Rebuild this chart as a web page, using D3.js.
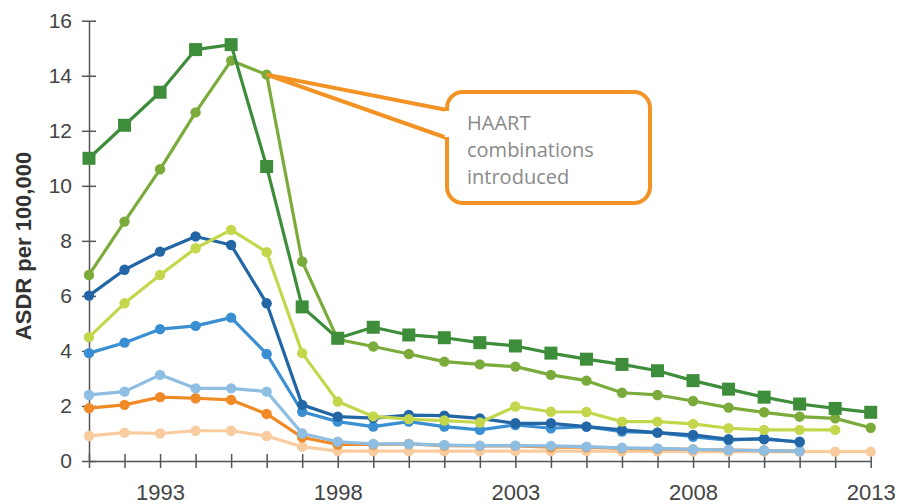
<!DOCTYPE html>
<html>
<head>
<meta charset="utf-8">
<script src="https://cdn.jsdelivr.net/npm/d3@7"></script>
<style>
  html, body { margin: 0; padding: 0; background: #fff; }
  svg { display: block; }
</style>
</head>
<body>
<svg id="chart" width="898" height="504"></svg>
<script>
const years = d3.range(1991, 2014);
const yTicks = [0, 2, 4, 6, 8, 10, 12, 14, 16];
const xTickLabels = [1993, 1998, 2003, 2008, 2013];

const darkGreen = [11.0, 12.2, 13.4, 14.95, 15.13, 10.7, 5.6, 4.46, 4.86, 4.58, 4.48, 4.3, 4.18, 3.92, 3.7, 3.51, 3.28, 2.92, 2.61, 2.32, 2.07, 1.91, 1.77];
const midGreen = [6.76, 8.7, 10.6, 12.67, 14.55, 14.04, 7.25, 4.42, 4.16, 3.89, 3.61, 3.51, 3.43, 3.13, 2.92, 2.48, 2.4, 2.18, 1.94, 1.77, 1.61, 1.55, 1.21];
const yellowGreen = [4.5, 5.73, 6.76, 7.73, 8.4, 7.59, 3.92, 2.16, 1.62, 1.52, 1.47, 1.4, 1.98, 1.79, 1.78, 1.43, 1.43, 1.35, 1.19, 1.13, 1.13, 1.13, null];
const darkBlue = [6.01, 6.95, 7.61, 8.16, 7.85, 5.73, 2.04, 1.61, 1.56, 1.67, 1.65, 1.55, 1.37, 1.37, 1.25, 1.13, 1.03, 0.95, 0.79, 0.79, 0.7, null, null];
const midBlue = [3.92, 4.3, 4.79, 4.91, 5.21, 3.89, 1.79, 1.43, 1.25, 1.43, 1.25, 1.13, 1.31, 1.19, 1.25, 1.07, 1.03, 0.88, 0.76, 0.82, 0.68, null, null];
const lightBlue = [2.4, 2.52, 3.13, 2.64, 2.64, 2.52, 1.0, 0.7, 0.62, 0.62, 0.58, 0.56, 0.56, 0.55, 0.52, 0.48, 0.46, 0.42, 0.4, 0.38, 0.36, null, null];
const orange = [1.92, 2.04, 2.32, 2.28, 2.22, 1.71, 0.86, 0.6, 0.6, 0.62, 0.56, 0.55, 0.55, 0.5, 0.5, 0.46, 0.44, 0.42, 0.4, 0.38, 0.36, null, null];
const peach = [0.91, 1.03, 1.0, 1.1, 1.1, 0.91, 0.52, 0.36, 0.36, 0.36, 0.36, 0.36, 0.36, 0.36, 0.36, 0.35, 0.35, 0.34, 0.34, 0.34, 0.34, 0.34, 0.34];

const seriesNames = ["peach", "orange", "lightBlue", "midBlue", "darkBlue", "yellowGreen", "midGreen", "darkGreen"];
const seriesValues = [peach, orange, lightBlue, midBlue, darkBlue, yellowGreen, midGreen, darkGreen];
const seriesColors = ["#f9cc9f", "#f08a26", "#8ebee2", "#3a8fd2", "#2366a6", "#c4d74c", "#7aab3b", "#3e8d3a"];
const seriesMarkers = ["circle", "circle", "circle", "circle", "circle", "circle", "circle", "square"];

const calloutLines = ["HAART", "combinations", "introduced"];
const calloutYear = 1996, calloutValue = 14.04;

const svg = d3.select("#chart");
const x = d3.scaleLinear().domain([1991, 2013]).range([89, 870.7]);
const y = d3.scaleLinear().domain([0, 16]).range([461, 20.7]);
const axisFont = "Arial, 'Liberation Sans', sans-serif";

// Y axis
const yAxis = d3.axisLeft(y).tickValues(yTicks).tickSizeInner(7).tickSizeOuter(0);
const gy = svg.append("g").attr("transform", "translate(89,0)").call(yAxis);
gy.select(".domain").attr("stroke", "#555").attr("stroke-width", 1.5);
gy.selectAll(".tick line").attr("stroke", "#555").attr("stroke-width", 1.5).attr("x1", 7).attr("x2", -7);
gy.selectAll(".tick text").attr("font-family", axisFont).attr("font-size", 21).attr("fill", "#444").attr("x", -17);

// X axis
const xAxis = d3.axisBottom(x).tickValues(years).tickSizeInner(7).tickSizeOuter(0)
  .tickFormat(d => xTickLabels.includes(d) ? String(d) : "");
const gx = svg.append("g").attr("transform", "translate(0,461)").call(xAxis);
gx.select(".domain").attr("stroke", "#555").attr("stroke-width", 1.5);
gx.selectAll(".tick line").attr("stroke", "#555").attr("stroke-width", 1.5).attr("y1", -7).attr("y2", 7);
gx.selectAll(".tick text").attr("font-family", axisFont).attr("font-size", 22).attr("fill", "#444").attr("y", 23);

// Y axis title
svg.append("text")
  .attr("transform", "translate(31,246) rotate(-90)")
  .attr("text-anchor", "middle")
  .attr("font-family", axisFont)
  .attr("font-weight", "bold")
  .attr("font-size", 22)
  .attr("fill", "#333")
  .text("ASDR per 100,000");

// Lines
const line = d3.line()
  .defined(d => d.v != null)
  .x(d => x(d.year))
  .y(d => y(d.v));

seriesValues.forEach((vals, i) => {
  const data = years.map((yr, j) => ({ year: yr, v: vals[j] }));
  const g = svg.append("g").attr("class", "series " + seriesNames[i]);
  g.append("path").datum(data)
    .attr("fill", "none")
    .attr("stroke", seriesColors[i])
    .attr("stroke-width", 3.2)
    .attr("stroke-linejoin", "round")
    .attr("d", line);
  const pts = data.filter(d => d.v != null);
  if (seriesMarkers[i] === "square") {
    g.selectAll("rect").data(pts).join("rect")
      .attr("x", d => x(d.year) - 6.5).attr("y", d => y(d.v) - 6.5)
      .attr("width", 13).attr("height", 13)
      .attr("fill", seriesColors[i]);
  } else {
    g.selectAll("circle").data(pts).join("circle")
      .attr("cx", d => x(d.year)).attr("cy", d => y(d.v))
      .attr("r", 5.2)
      .attr("fill", seriesColors[i]);
  }
});

// Callout
const orangeC = "#f39325";
const bx = 447, by = 92, bw = 203, bh = 111, br = 16;
const px = x(calloutYear), py = y(calloutValue);
svg.append("path")
  .attr("d", `M${bx},110 L${px},${py} L${bx},138`)
  .attr("fill", "#fff")
  .attr("stroke", orangeC)
  .attr("stroke-width", 4)
  .attr("stroke-linejoin", "miter");
svg.append("rect")
  .attr("x", bx).attr("y", by).attr("width", bw).attr("height", bh)
  .attr("rx", br).attr("ry", br)
  .attr("fill", "#fff")
  .attr("stroke", orangeC)
  .attr("stroke-width", 4);
svg.append("line")
  .attr("x1", bx).attr("x2", bx).attr("y1", 111).attr("y2", 137)
  .attr("stroke", "#fff").attr("stroke-width", 4.5);

svg.append("g").selectAll("text").data(calloutLines).join("text")
  .attr("x", 467)
  .attr("y", (d, i) => 130 + i * 27)
  .attr("font-family", "'Open Sans', 'Noto Sans', sans-serif")
  .attr("font-size", 20)
  .attr("fill", "#8a8a8a")
  .text(d => d);
</script>
</body>
</html>
